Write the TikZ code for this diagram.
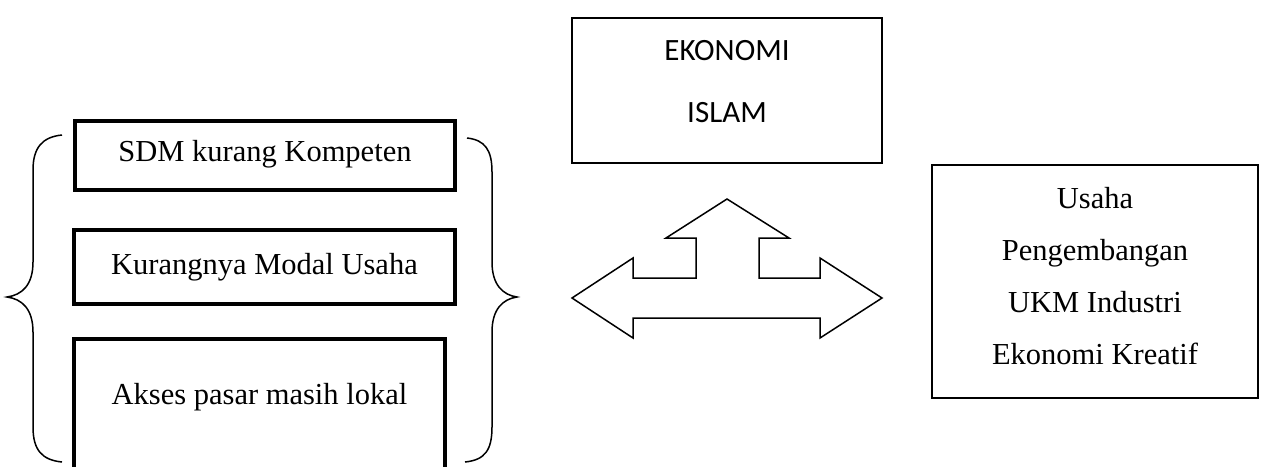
\documentclass[tikz,border=0pt]{standalone}
\usepackage{fontspec}
\setmainfont{Liberation Serif}
\newfontfamily\calibri{Carlito}
\begin{document}
\begin{tikzpicture}[x=1pt,y=-1pt,
  thickbox/.style={draw=black, line width=4pt, rectangle, inner sep=0pt},
  thinbox/.style={draw=black, line width=1.5pt, rectangle, inner sep=0pt},
  serif/.style={inner sep=0pt, anchor=base, font=\fontsize{30.5}{37}\selectfont},
  sans/.style={inner sep=0pt, anchor=base, font=\calibri\fontsize{31}{37}\selectfont},
  brace/.style={draw=black, line width=1.5pt},
  bigarrow/.style={draw=black, line width=1.5pt, line join=miter}]
\useasboundingbox (0,0) rectangle (1265,466);
% left boxes
\node[thickbox, minimum width=380pt, minimum height=69pt] (sdm) at (265,155.5) {};
\node[serif] (tsdm) at (265,161) {SDM kurang Kompeten};
\node[thickbox, minimum width=381pt, minimum height=74pt] (modal) at (264.5,267) {};
\node[serif] (tmodal) at (264.5,274) {Kurangnya Modal Usaha};
\node[thickbox, minimum width=371pt, minimum height=146pt] (akses) at (259.5,412) {};
\node[serif] (takses) at (259.5,404) {Akses pasar masih lokal};
% braces
\draw[brace] (62,135) .. controls (42,137) and (33,148) .. (33,170) -- (33,262)
  .. controls (33,285) and (22,295) .. (7,297)
  .. controls (22,299) and (33,309) .. (33,332) -- (33,427)
  .. controls (33,450) and (42,460) .. (62,462);
\draw[brace] (467,138) .. controls (485,140) and (492,150) .. (492,172) -- (492,262)
  .. controls (492,285) and (503,295) .. (517,297)
  .. controls (503,299) and (492,309) .. (492,332) -- (492,427)
  .. controls (492,450) and (485,460) .. (465,462);
% Ekonomi Islam
\node[thinbox, minimum width=310pt, minimum height=145pt] (ei) at (727,90.5) {};
\node[sans] (tek) at (727,60) {EKONOMI};
\node[sans] (tis) at (727,122) {ISLAM};
% three-way arrow
\draw[bigarrow] (572,298) -- (633,258) -- (633,278) -- (696,278) -- (696,238) -- (666,238)
  -- (727,199) -- (789,238) -- (759,238) -- (759,278) -- (820,278) -- (820,258)
  -- (882,298) -- (820,338) -- (820,318) -- (633,318) -- (633,338) -- cycle;
% right box
\node[thinbox, minimum width=326pt, minimum height=233pt] (usaha) at (1095,281.5) {};
\node[serif] (t1) at (1095,208) {Usaha};
\node[serif] (t2) at (1095,260) {Pengembangan};
\node[serif] (t3) at (1095,312) {UKM Industri};
\node[serif] (t4) at (1095,364) {Ekonomi Kreatif};
\end{tikzpicture}
\end{document}
